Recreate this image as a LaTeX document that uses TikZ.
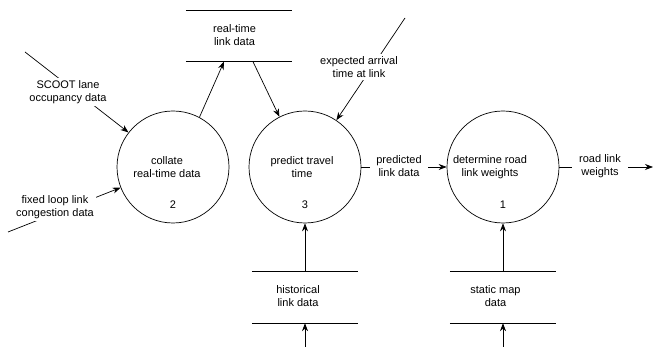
\documentclass[tikz,border=0pt]{standalone}
\usepackage{fontspec}
\setmainfont{Liberation Sans}
\usepackage{tikz}
\usetikzlibrary{arrows.meta,positioning,calc}

\begin{document}
\begin{tikzpicture}[
    x=1pt, y=-1pt,
    proc/.style={draw, circle, minimum size=112pt, inner sep=0pt, line width=0.7pt},
    store/.style={minimum width=106pt, minimum height=51pt, inner sep=0pt},
    txt/.style={font=\fontsize{11}{13}\selectfont, align=center, inner sep=1pt},
    lbl/.style={txt, fill=white, inner sep=2pt},
    line/.style={line width=0.7pt},
    flow/.style={line, -{Stealth[length=8pt, width=6pt]}},
]
\useasboundingbox (0,0) rectangle (657,347);

% Processes
\node[proc] (c2) at (173,167) {};
\node[proc] (c3) at (305,167) {};
\node[proc] (c1) at (503,167) {};
\node[txt] (c2-text) at ([xshift=-6pt]c2.center) {collate\\real-time data};
\node[txt] (c3-text) at ([xshift=-3pt]c3.center) {predict travel\\time};
\node[txt] (c1-text) at ([xshift=-13pt]c1.center) {determine road\\link weights};
\node[txt] (c2-num) at ([yshift=-38pt]c2.center) {2};
\node[txt] (c3-num) at ([yshift=-38pt]c3.center) {3};
\node[txt] (c1-num) at ([yshift=-38pt]c1.center) {1};

% Stores
\node[store] (rt) at (239,36) {};
\node[store] (hist) at (305,297.5) {};
\node[store] (map) at (503,297.5) {};
\node[txt] (rt-text) at (234.5,35) {real-time\\link data};
\node[txt] (hist-text) at (298,296.5) {historical\\link data};
\node[txt] (map-text) at (495.5,296.5) {static map\\data};
\foreach \s in {rt,hist,map}
    \draw[line] (\s.north west) -- (\s.north east) (\s.south west) -- (\s.south east);

% Free ends
\coordinate (scoot-in) at (25,52);
\coordinate (loop-in) at (8,232);
\coordinate (arr-in) at (405,18);
\coordinate (hist-in) at (305,347);
\coordinate (map-in) at (503,347);
\coordinate (out) at (653,167);

% Flows
\draw[flow] (scoot-in) -- (c2);
\draw[flow] (loop-in) -- (c2);
\draw[flow] (arr-in) -- (c3);
\draw[flow] (c2.62) -- ([xshift=-15pt]rt.south);
\draw[flow] ([xshift=14pt]rt.south) -- (c3.117);
\draw[flow] (hist-in) -- (hist.south);
\draw[flow] (hist.north) -- (c3.south);
\draw[flow] (map-in) -- (map.south);
\draw[flow] (map.north) -- (c1.south);
\draw[flow] (c3) -- (c1);
\draw[flow] (c1) -- (out);

% Labels
\node[lbl] (scoot) at (68,92) {SCOOT lane\\occupancy data};
\node[lbl] (loop) at (55,207.5) {fixed loop link\\congestion data};
\node[lbl] (arr) at (359,67) {expected arrival\\time at link};
\node[lbl, inner xsep=6pt] (pred) at (399,166) {predicted\\link data};
\node[lbl, inner xsep=7pt] (weights) at (600,166) {road link\\weights};
\end{tikzpicture}
\end{document}
